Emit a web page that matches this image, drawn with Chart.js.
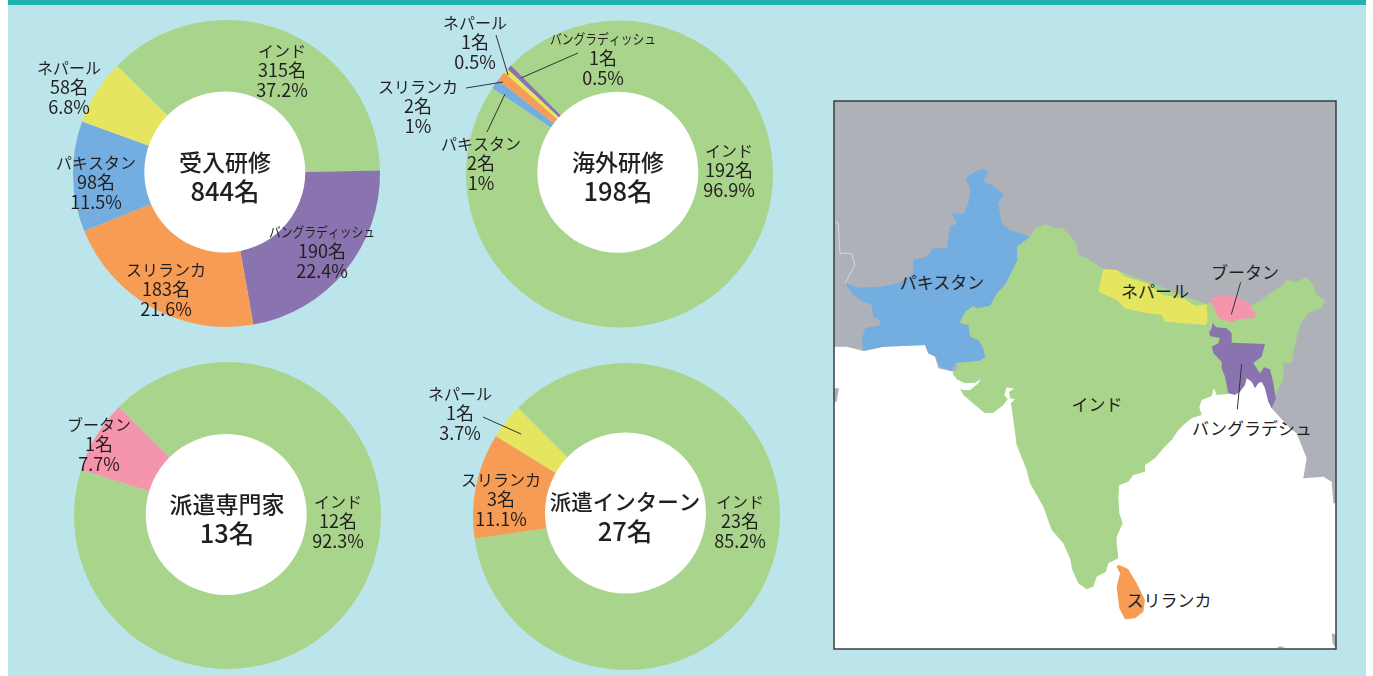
<!DOCTYPE html>
<html lang="ja">
<head>
<meta charset="utf-8">
<title>研修実績</title>
<script src="https://cdn.jsdelivr.net/npm/chart.js@4"></script>
<style>
  html, body { margin: 0; padding: 0; background: #fff; overflow: hidden; }
  #page { position: relative; width: 1373px; height: 676px; overflow: hidden; }
  #panel { position: absolute; left: 8px; top: 0; width: 1358px; height: 676px; background: #bbe5ea; border-top: 5px solid #20b2ae; box-sizing: border-box; }
  canvas { position: absolute; }
  #map { position: absolute; left: 0; top: 0; }
  #map text { font-family: "Noto Sans CJK JP", sans-serif; font-size: 17px; fill: #231f20; text-anchor: middle; dominant-baseline: central; }
</style>
</head>
<body>
<div id="page">
  <div id="panel"></div>
  <svg id="map" width="1373" height="676">
    <defs><clipPath id="mapClip"><rect x="834" y="101" width="502" height="548"/></clipPath></defs>
    <g clip-path="url(#mapClip)">
      <rect x="834" y="101" width="502" height="548" fill="#fff"/>
      <g transform="translate(830,95) scale(0.33333)" stroke-linejoin="round">
        <!-- land to the north and east, sea is left white -->
        <polygon fill="#aeb1b8" points="0,0 1530,0 1530,1225 1510,1225 1505,1160 1480,1145 1420,1150 1430,1090 1400,1015 1380,1000 1325,940 1300,830 1200,800 370,830 325,820 315,785 295,775 285,750 160,755 100,768 50,755 0,755"/>
        <polygon fill="#aeb1b8" points="10,880 27,880 20,920 10,920"/>
        <polygon fill="#aeb1b8" points="1505,1615 1520,1620 1520,1665 1508,1645"/>
        <polygon fill="#aeb1b8" points="1340,1658 1350,1653 1368,1660"/>
        <polyline fill="none" stroke="#d6d7da" stroke-width="3" points="15,380 25,385 30,475 65,475 75,510 45,565"/>
        <!-- India -->
        <polygon fill="#a9d48b" points="645,388 680,400 695,398 720,420 738,445 745,480 770,490 800,510 820,522 860,525 1130,628 1145,620 1265,630 1295,615 1320,595 1360,570 1370,555 1400,560 1430,545 1450,570 1460,600 1485,615 1475,640 1440,650 1415,680 1405,710 1400,730 1390,775 1385,805 1360,805 1360,855 1340,890 1338,910 1320,880 1300,840 1220,840 1195,897 1160,900 1152,880 1145,903 1115,915 1108,937 1115,960 1085,970 1060,990 1045,1005 1025,1035 1000,1060 975,1090 945,1110 945,1130 910,1140 895,1160 868,1170 865,1205 868,1255 878,1285 860,1325 860,1345 865,1390 835,1405 828,1430 800,1445 790,1475 770,1483 745,1465 727,1425 720,1390 700,1345 665,1305 640,1235 600,1165 590,1125 560,1050 550,975 543,925 555,913 540,910 537,890 553,881 530,877 523,900 533,913 520,930 490,953 465,955 435,930 400,900 390,880 400,885 420,885 445,865 453,853 435,863 405,865 380,853 367,835 383,820 380,803 450,797 465,785 460,760 445,735 420,725 415,690 388,685 405,650 430,632 440,640 480,632 500,595 525,570 550,520 562,495 560,455 600,425 615,400"/>
        <!-- Pakistan -->
        <polygon fill="#74aee0" points="455,222 475,230 460,260 485,270 520,298 505,325 515,385 535,402 560,412 600,425 560,455 562,495 550,520 525,570 500,595 480,632 440,640 430,632 405,650 388,685 415,690 420,725 445,735 460,760 465,785 450,797 380,803 363,827 330,815 318,785 295,775 285,750 160,755 100,768 95,735 105,700 150,690 150,675 130,665 125,630 100,620 70,600 45,565 90,578 150,575 205,565 250,535 250,495 290,485 310,460 350,460 360,395 380,385 365,355 400,358 415,325 422,285 408,255 420,238"/>
        <!-- Nepal -->
        <polygon fill="#e6e55f" points="820,522 860,525 885,545 950,565 1000,600 1060,610 1095,632 1130,628 1133,680 1125,690 1060,685 1005,680 995,660 950,655 885,640 860,615 805,590"/>
        <!-- Bhutan -->
        <polygon fill="#f595ab" points="1145,610 1175,598 1220,605 1265,630 1265,645 1278,650 1275,668 1230,672 1205,682 1165,670 1155,645 1145,625"/>
        <!-- Bangladesh -->
        <polygon fill="#8a74b0" points="1148,683 1158,697 1190,700 1205,715 1205,743 1305,747 1295,785 1275,800 1270,805 1290,835 1302,817 1320,823 1330,865 1338,910 1325,940 1315,920 1305,880 1295,860 1285,865 1275,880 1265,860 1250,850 1245,870 1230,890 1215,900 1195,895 1185,845 1175,820 1175,800 1150,775 1145,755 1165,745 1170,730 1140,723 1138,710 1145,700"/>
        <!-- Sri Lanka -->
        <polygon fill="#f79c55" points="865,1410 880,1415 895,1423 920,1465 945,1515 940,1550 915,1570 885,1573 868,1540 860,1475 870,1435 860,1415"/>
        <line x1="1232" y1="562" x2="1204" y2="658" stroke="#333" stroke-width="3"/>
        <line x1="1235" y1="808" x2="1222" y2="943" stroke="#333" stroke-width="3"/>
      </g>
    </g>
    <rect x="834" y="101" width="502" height="548" fill="none" stroke="#3c3c3c" stroke-width="1.5"/>
    <text x="942" y="281">パキスタン</text>
    <text x="1155" y="290">ネパール</text>
    <text x="1245" y="271">ブータン</text>
    <text x="1097" y="403">インド</text>
    <text x="1252" y="427">バングラデシュ</text>
    <text x="1169" y="599">スリランカ</text>
  </svg>
</div>
<script>
// 受入研修
const ukeireNames = ['インド', 'バングラディッシュ', 'スリランカ', 'パキスタン', 'ネパール'];
const ukeireValues = [315, 190, 183, 98, 58];
const ukeirePercent = ['37.2', '22.4', '21.6', '11.5', '6.8'];

// 海外研修
const kaigaiNames = ['インド', 'パキスタン', 'スリランカ', 'ネパール', 'バングラディッシュ'];
const kaigaiValues = [192, 2, 2, 1, 1];
const kaigaiPercent = ['96.9', '1', '1', '0.5', '0.5'];

// 派遣専門家
const senmonkaNames = ['インド', 'ブータン'];
const senmonkaValues = [12, 1];
const senmonkaPercent = ['92.3', '7.7'];

// 派遣インターン
const internNames = ['インド', 'スリランカ', 'ネパール'];
const internValues = [23, 3, 1];
const internPercent = ['85.2', '11.1', '3.7'];

const colors = {
  'インド': '#a9d48b',
  'バングラディッシュ': '#8a74b0',
  'スリランカ': '#f79c55',
  'パキスタン': '#74aee0',
  'ネパール': '#e6e55f',
  'ブータン': '#f595ab'
};

const FONT = '"Noto Sans CJK JP", sans-serif';
const INK = '#231f20';

// draws the white hole, centre title, slice labels and leader lines
const labelPlugin = {
  id: 'sliceLabels',
  afterDatasetsDraw(chart, args, opts) {
    const ctx = chart.ctx;
    const ox = opts.left, oy = opts.top;
    ctx.save();
    // the hole sits a little off the ring centre in the original
    ctx.fillStyle = '#fff';
    ctx.beginPath();
    ctx.arc(opts.hole[0] - ox, opts.hole[1] - oy, 80.5, 0, Math.PI * 2);
    ctx.fill();

    ctx.strokeStyle = '#333';
    ctx.lineWidth = 1;
    opts.leaders.forEach(l => {
      ctx.beginPath();
      ctx.moveTo(l[0] - ox, l[1] - oy);
      ctx.lineTo(l[2] - ox, l[3] - oy);
      ctx.stroke();
    });

    ctx.fillStyle = INK;
    ctx.textAlign = 'center';
    ctx.textBaseline = 'middle';
    opts.spots.forEach((p, i) => {
      const name = opts.names[i];
      const x = p[0] - ox, y = p[1] - oy;
      if (name.length > 8) {
        ctx.font = '14px ' + FONT;
        ctx.fillText(name, x, y, 106);
      } else {
        ctx.font = '16px ' + FONT;
        ctx.fillText(name, x, y);
      }
      ctx.font = '18px ' + FONT;
      ctx.fillText(opts.values[i] + '名', x, y + 19.4);
      ctx.fillText(opts.percent[i] + '%', x, y + 38.8);
    });

    ctx.font = '500 ' + opts.titleSize + 'px ' + FONT;
    ctx.fillText(opts.title, opts.titleAt[0] - ox, opts.titleAt[1] - oy);
    ctx.font = '500 25.5px ' + FONT;
    ctx.fillText(opts.total, opts.titleAt[0] - ox, opts.titleAt[1] + 29 - oy);
    ctx.restore();
  }
};

function drawDoughnut(c) {
  const W = 520, H = 320, R = 153.5;
  const left = Math.floor(c.cx - 270), top = Math.floor(c.cy - 165);
  const canvas = document.createElement('canvas');
  canvas.width = W;
  canvas.height = H;
  canvas.style.left = left + 'px';
  canvas.style.top = top + 'px';
  document.getElementById('page').appendChild(canvas);

  const px = c.cx - left, py = c.cy - top;
  return new Chart(canvas, {
    type: 'doughnut',
    plugins: [labelPlugin],
    data: {
      labels: c.names,
      datasets: [{
        data: c.values,
        backgroundColor: c.names.map(n => colors[n]),
        borderWidth: 0,
        hoverOffset: 0
      }]
    },
    options: {
      responsive: false,
      animation: false,
      events: [],
      rotation: c.rotation,
      cutout: '45%',
      layout: { padding: { left: px - R, right: W - px - R, top: py - R, bottom: H - py - R } },
      plugins: {
        legend: { display: false },
        tooltip: { enabled: false },
        sliceLabels: {
          left: left, top: top, hole: c.hole,
          names: c.names, values: c.values, percent: c.percent,
          spots: c.spots, leaders: c.leaders,
          title: c.title, titleSize: c.titleSize, titleAt: c.titleAt, total: c.total
        }
      }
    }
  });
}

const chart1 = drawDoughnut({
  cx: 226.5, cy: 173.5, rotation: -45.5, hole: [224.8, 172],
  names: ukeireNames, values: ukeireValues, percent: ukeirePercent,
  title: '受入研修', titleSize: 23, titleAt: [225, 162], total: '844名',
  spots: [[282, 51], [322, 232], [166, 270], [96, 163], [69, 68]],
  leaders: []
});

const chart2 = drawDoughnut({
  cx: 619.5, cy: 174, rotation: -45, hole: [617.8, 172.2],
  names: kaigaiNames, values: kaigaiValues, percent: kaigaiPercent,
  title: '海外研修', titleSize: 23, titleAt: [618, 162], total: '198名',
  spots: [[729, 151], [481, 144], [418, 87], [475, 23], [603, 39]],
  leaders: [[496, 35, 508, 75], [578, 53, 521, 78], [466, 88, 503, 82], [487, 132, 505, 94]]
});

const chart3 = drawDoughnut({
  cx: 227.5, cy: 515.5, rotation: -45, hole: [226.2, 514.5],
  names: senmonkaNames, values: senmonkaValues, percent: senmonkaPercent,
  title: '派遣専門家', titleSize: 23, titleAt: [227, 504], total: '13名',
  spots: [[338, 502], [99, 425]],
  leaders: []
});

const chart4 = drawDoughnut({
  cx: 626.5, cy: 516.5, rotation: -45, hole: [625.5, 513],
  names: internNames, values: internValues, percent: internPercent,
  title: '派遣インターン', titleSize: 21.5, titleAt: [625, 502], total: '27名',
  spots: [[740, 502], [501, 480], [460, 394]],
  leaders: [[483, 417, 521, 434]]
});
</script>
</body>
</html>
